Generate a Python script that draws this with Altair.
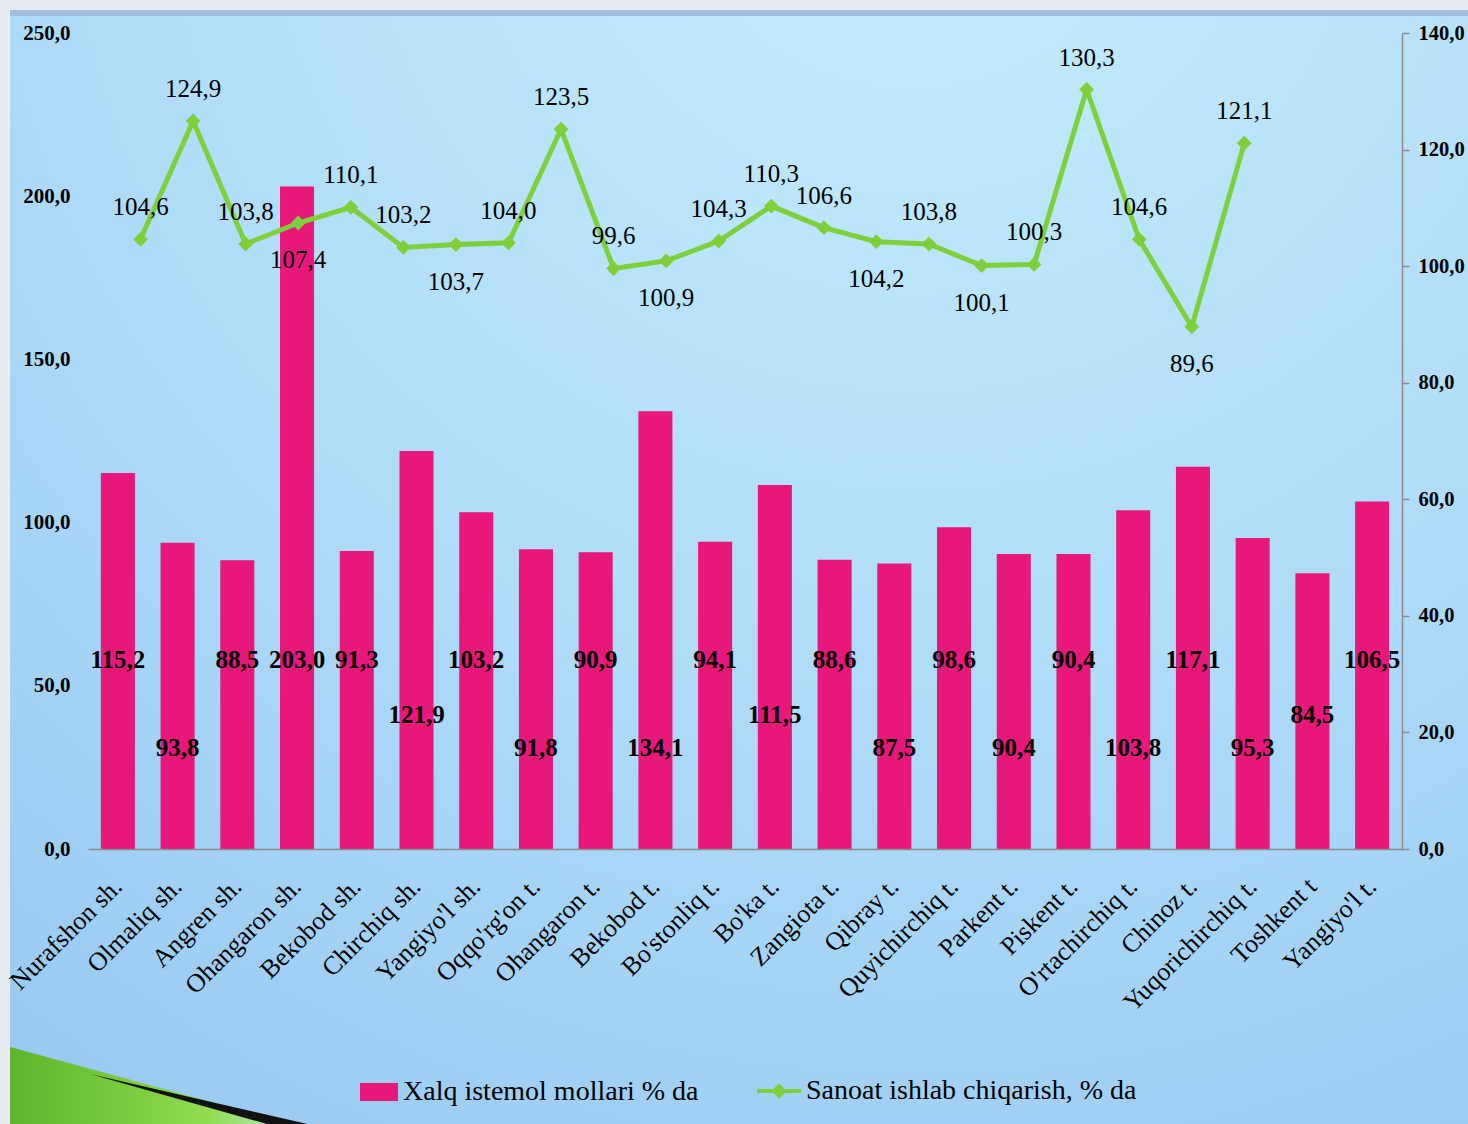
import altair as alt
import pandas as pd

# ---------------- data ----------------
categories = [
    "Nurafshon sh.", "Olmaliq sh.", "Angren sh.", "Ohangaron sh.", "Bekobod sh.",
    "Chirchiq sh.", "Yangiyo'l sh.", "Oqqo'rg'on t.", "Ohangaron t.", "Bekobod t.",
    "Bo'stonliq t.", "Bo'ka t.", "Zangiota t.", "Qibray t.", "Quyichirchiq t.",
    "Parkent t.", "Piskent t.", "O'rtachirchiq t.", "Chinoz t.", "Yuqorichirchiq t.",
    "Toshkent t", "Yangiyo'l t.",
]
consumer = [115.2, 93.8, 88.5, 203.0, 91.3, 121.9, 103.2, 91.8, 90.9, 134.1, 94.1,
            111.5, 88.6, 87.5, 98.6, 90.4, 90.4, 103.8, 117.1, 95.3, 84.5, 106.5]
industry = [104.6, 124.9, 103.8, 107.4, 110.1, 103.2, 103.7, 104.0, 123.5, 99.6, 100.9,
            104.3, 110.3, 106.6, 104.2, 103.8, 100.1, 100.3, 130.3, 104.6, 89.6, 121.1]
bar_label_tier = ["high", "low", "high", "high", "high", "mid", "high", "low", "high", "low", "high",
                  "mid", "high", "low", "high", "low", "high", "low", "high", "low", "mid", "high"]
line_label_side = ["above", "above", "above", "below", "above", "above", "below", "above", "above", "above", "below",
                   "above", "above", "above", "below", "above", "below", "above", "above", "above", "below", "above"]

BAR_NAME = "Xalq istemol mollari % da"
LINE_NAME = "Sanoat ishlab chiqarish, % da"

left_ticks = [0, 50, 100, 150, 200, 250]
right_ticks = [0, 20, 40, 60, 80, 100, 120, 140]

# ---------------- style ----------------
PINK = "#E8177A"
GREEN = "#7ED03A"
AXIS_GRAY = "#8c8c8c"
FONT = "Liberation Serif"
FMT = "replace(format(datum.value, '.1f'), '.', ',')"
W, H = 1314, 816

df = pd.DataFrame({
    "region": categories,
    "consumer": consumer,
    "industry": industry,
    "tier": bar_label_tier,
    "side": line_label_side,
})
df["order"] = range(len(categories))
df["bar_series"] = BAR_NAME
df["line_series"] = LINE_NAME

# ---------------- background decoration ----------------
one = alt.Data(values=[{}])
bg = alt.Chart(one).mark_rect(
    clip=False,
    color=alt.RadialGradient(
        gradient="radial", x1=0.62, y1=0.0, r1=0.0, x2=0.62, y2=0.0, r2=1.15,
        stops=[alt.GradientStop(color="#c6eefd", offset=0),
               alt.GradientStop(color="#b0dcf8", offset=0.5),
               alt.GradientStop(color="#93c5f0", offset=1)],
    ),
).encode(x=alt.value(-78), x2=alt.value(1380), y=alt.value(-18), y2=alt.value(1091))

top_band = alt.Chart(one).mark_rect(clip=False, color="#a2bde0").encode(
    x=alt.value(-78), x2=alt.value(1380), y=alt.value(-23), y2=alt.value(-17))

swoosh_green = alt.Chart(one).mark_point(
    clip=False, filled=True, opacity=1, strokeWidth=0, size=90000,
    shape="M-0.933,-0.253L-0.933,0.26L0.95,0.26Z",
    color=alt.LinearGradient(gradient="linear", x1=0, y1=0, x2=1, y2=0,
                             stops=[alt.GradientStop(color="#5db52a", offset=0),
                                    alt.GradientStop(color="#8fdc4c", offset=0.7),
                                    alt.GradientStop(color="#b9e8c8", offset=1)]),
).encode(x=alt.value(62), y=alt.value(1052))
swoosh_black = alt.Chart(one).mark_point(
    clip=False, filled=True, opacity=1, strokeWidth=0, size=90000,
    shape="M-0.4,-0.073L1.05,0.26L0.78,0.26Z", color="#111111",
).encode(x=alt.value(62), y=alt.value(1052))

# ---------------- bars group ----------------
x_bar = alt.X(
    "region:N",
    scale=alt.Scale(domain=categories, paddingInner=0.43, paddingOuter=0.215),
    axis=alt.Axis(title=None, labelAngle=-45, labelAlign="right", labelBaseline="middle",
                  labelPadding=33, ticks=False, labelFont=FONT, labelFontSize=26,
                  labelColor="black", domainColor=AXIS_GRAY, domainWidth=1.5,
                  labelLimit=500, labelOverlap=False, zindex=2),
)
y_axis_left = alt.Axis(title=None, values=left_ticks, labelExpr=FMT, ticks=False, tickSize=0,
                       domain=False, grid=False, labelFont=FONT, labelFontSize=21,
                       labelFontWeight="bold", labelColor="black", labelPadding=18, zindex=2)
y_scale_left = alt.Scale(domain=[0, 250], nice=False, zero=True)

bars = alt.Chart(df).mark_bar().encode(
    x=x_bar,
    y=alt.Y("consumer:Q", scale=y_scale_left, axis=y_axis_left),
    fill=alt.Fill("bar_series:N", scale=alt.Scale(domain=[BAR_NAME], range=[PINK]),
                  legend=alt.Legend(title=None, orient="none", legendX=272, legendY=1040,
                                    symbolType="M-1,-0.47H1V0.47H-1Z", symbolSize=1444,
                                    symbolStrokeWidth=0, labelFont=FONT, labelFontSize=28,
                                    labelColor="black", labelOffset=5, labelLimit=600)),
)

bar_text = alt.Chart(df).transform_calculate(
    lbl="replace(format(datum.consumer, '.1f'), '.', ',')",
    ty="datum.tier == 'high' ? 58 : (datum.tier == 'mid' ? 41 : 31)",
).mark_text(font=FONT, fontSize=25, fontWeight="bold", color="black", baseline="middle").encode(
    x=x_bar,
    y=alt.Y("ty:Q", scale=y_scale_left, axis=y_axis_left),
    text="lbl:N",
)

bar_group = alt.layer(bars, bar_text)

# ---------------- line group ----------------
# the line sits on its own (secondary) category axis, slightly narrower than the bars' one
x_line = alt.X("order:Q", scale=alt.Scale(domain=[-1.0, 24.0], nice=False, zero=False), axis=None)
y_line = alt.Y(
    "industry:Q",
    scale=alt.Scale(domain=[0, 140], nice=False, zero=True),
    axis=alt.Axis(orient="right", title=None, values=right_ticks, labelExpr=FMT,
                  domainColor=AXIS_GRAY, domainWidth=1.5, tickColor=AXIS_GRAY, tickSize=7,
                  tickWidth=1.5, labelPadding=9, labelFont=FONT, labelFontSize=20.5,
                  labelFontWeight="bold", labelColor="black", grid=False, zindex=2),
)

base = alt.Chart(df)
line = base.mark_line(strokeWidth=5).encode(
    x=x_line, y=y_line,
    stroke=alt.Stroke("line_series:N", scale=alt.Scale(domain=[LINE_NAME], range=[GREEN]),
                      legend=alt.Legend(title=None, orient="none", legendX=667, legendY=1034,
                                        symbolType="M-1,0H1M0,-0.22L0.22,0L0,0.22L-0.22,0Z",
                                        symbolSize=1936, symbolStrokeWidth=4,
                                        symbolFillColor=GREEN, labelFont=FONT, labelFontSize=28,
                                        labelColor="black", labelOffset=3, labelLimit=600)),
)
points = base.mark_point(shape="diamond", filled=True, size=220, color=GREEN, opacity=1).encode(
    x=x_line, y=y_line)

line_lbl = "replace(format(datum.industry, '.1f'), '.', ',')"
above = base.transform_filter("datum.side == 'above'").transform_calculate(lbl=line_lbl).mark_text(
    font=FONT, fontSize=25, color="black", baseline="middle", dy=-32).encode(
    x=x_line, y=y_line, text="lbl:N")
below = base.transform_filter("datum.side == 'below'").transform_calculate(lbl=line_lbl).mark_text(
    font=FONT, fontSize=25, color="black", baseline="middle", dy=37).encode(
    x=x_line, y=y_line, text="lbl:N")

line_group = alt.layer(line, points, above, below)

chart = alt.layer(bg, top_band, swoosh_green, swoosh_black, bar_group, line_group).resolve_scale(
    x="independent", y="independent"
).properties(
    width=W, height=H,
    autosize=alt.AutoSizeParams(type="none"),
    padding={"left": 88, "top": 33, "right": 1468 - 88 - W, "bottom": 1124 - 33 - H},
    background="#e6ecf2",
).configure_view(stroke=None)

chart.save("out.html", embed_options={"renderer": "svg", "actions": False})
